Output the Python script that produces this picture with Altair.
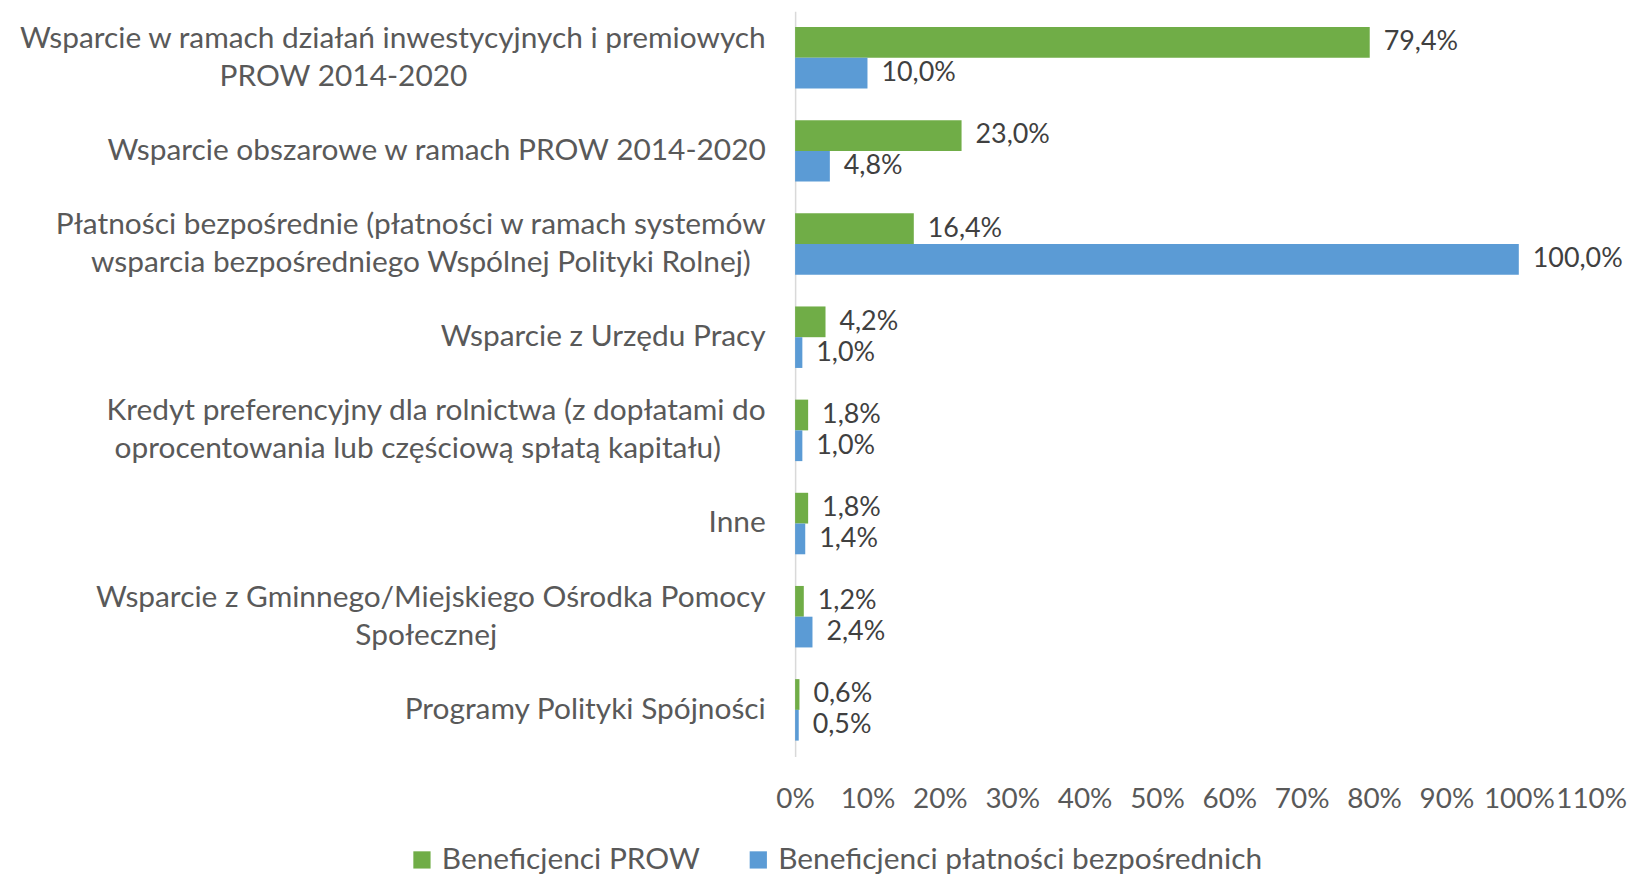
import altair as alt
import pandas as pd

categories = [
    "Wsparcie w ramach działań inwestycyjnych i premiowych\nPROW 2014-2020",
    "Wsparcie obszarowe w ramach PROW 2014-2020",
    "Płatności bezpośrednie (płatności w ramach systemów\nwsparcia bezpośredniego Wspólnej Polityki Rolnej)",
    "Wsparcie z Urzędu Pracy",
    "Kredyt preferencyjny dla rolnictwa (z dopłatami do\noprocentowania lub częściową spłatą kapitału)",
    "Inne",
    "Wsparcie z Gminnego/Miejskiego Ośrodka Pomocy\nSpołecznej",
    "Programy Polityki Spójności",
]
series = ["Beneficjenci PROW", "Beneficjenci płatności bezpośrednich"]
prow = [79.4, 23.0, 16.4, 4.2, 1.8, 1.8, 1.2, 0.6]
platnosci = [10.0, 4.8, 100.0, 1.0, 1.0, 1.4, 2.4, 0.5]
colors = ["#70AD47", "#5B9BD5"]

rows = []
for c, a, b in zip(categories, prow, platnosci):
    for s, v in zip(series, [a, b]):
        rows.append({"cat": c, "series": s, "value": v,
                     "label": f"{v:.1f}%".replace(".", ",")})
df = pd.DataFrame(rows)

FONT = "Lato"
EN = "\u2002"   # en space used to centre the second line
ZW = "\u200b"   # zero-width guard so the padding is not trimmed
label_expr = (
    "length(split(datum.label, '\\n')) > 1 ? "
    "[split(datum.label, '\\n')[0], "
    "pad(split(datum.label, '\\n')[1], length(split(datum.label, '\\n')[0]), '" + EN + "', 'center') + '" + ZW + "'] "
    ": datum.label"
)

y = alt.Y("cat:N", sort=categories, title=None,
          scale=alt.Scale(paddingInner=0.34, paddingOuter=0.17),
          axis=alt.Axis(labelExpr=label_expr, labelFont=FONT,
                        labelFontSize=30, labelColor="#595959", labelLineHeight=38,
                        labelOffset={"condition": {"test": "indexof(datum.value, '\\n') >= 0",
                                                   "value": -19}, "value": 0},
                        labelPadding=30, ticks=False, domainColor="#D9D9D9",
                        domainWidth=1.5, labelLimit=0, labelAlign="right",
                        labelBaseline="middle"))
x = alt.X("value:Q", title=None,
          scale=alt.Scale(domain=[0, 110], nice=False),
          axis=alt.Axis(values=list(range(0, 111, 10)), labelExpr="datum.value + '%'",
                        labelFont=FONT, labelFontSize=28, labelColor="#595959",
                        grid=False, domain=False, ticks=False, labelPadding=29,
                        labelFlush=False, labelOverlap=False))
yoff = alt.YOffset("series:N", sort=series)
color = alt.Color("series:N", sort=series,
                  scale=alt.Scale(domain=series, range=colors),
                  legend=alt.Legend(title=None, orient="none", direction="horizontal",
                                    legendX=-390, legendY=838, labelFont=FONT,
                                    labelFontSize=30, labelColor="#595959",
                                    symbolType="square", symbolSize=300,
                                    symbolStrokeWidth=0, labelOffset=5,
                                    columnPadding=43, padding=0, labelLimit=0))

bars = alt.Chart(df).mark_bar().encode(y=y, x=x, yOffset=yoff, color=color)
texts = alt.Chart(df).mark_text(align="left", baseline="middle", dx=14,
                                font=FONT, fontSize=27, color="#404040").encode(
    y=y, x=x, yOffset=yoff, text="label:N")

chart = alt.layer(bars, texts).properties(
    width=800, height=749,
    autosize=alt.AutoSizeParams(type="none"),
    padding={"left": 791, "top": 1, "right": 37, "bottom": 118},
).configure_view(stroke=None)

chart.save("out.html", embed_options={"renderer": "svg", "actions": False})
